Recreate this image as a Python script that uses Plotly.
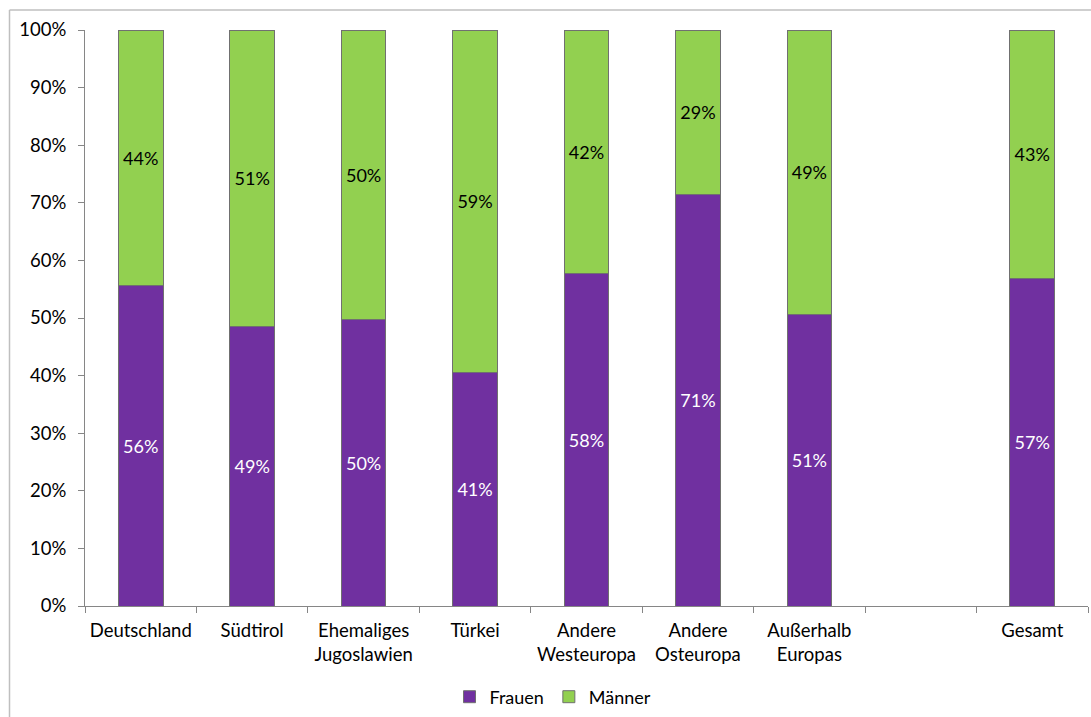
import plotly.graph_objects as go

categories = ["Deutschland", "Südtirol", "Ehemaliges<br>Jugoslawien", "Türkei",
              "Andere<br>Westeuropa", "Andere<br>Osteuropa", "Außerhalb<br>Europas", " ", "Gesamt"]
frauen = [55.7, 48.6, 49.8, 40.6, 57.8, 71.4, 50.6, None, 56.8]
maenner = [44.3, 51.4, 50.2, 59.4, 42.2, 28.6, 49.4, None, 43.2]
y_ticks = [0, 10, 20, 30, 40, 50, 60, 70, 80, 90, 100]
y_ticktext = [f"{v}%" for v in y_ticks]

FONT = "Lato, 'Open Sans', sans-serif"

fig = go.Figure()
fig.add_trace(go.Bar(
    x=categories, y=frauen, name="Frauen",
    marker=dict(color="#7030A0", line=dict(color="#707070", width=1)),
    texttemplate="%{y:.0f}%", textposition="inside", insidetextanchor="middle",
    textfont=dict(color="white", size=18, family=FONT), textangle=0,
    hoverinfo="skip",
))
fig.add_trace(go.Bar(
    x=categories, y=maenner, name="Männer",
    marker=dict(color="#92D050", line=dict(color="#707070", width=1)),
    texttemplate="%{y:.0f}%", textposition="inside", insidetextanchor="middle",
    textfont=dict(color="black", size=18, family=FONT), textangle=0,
    hoverinfo="skip",
))

W, H = 1091, 717
L, R, T, B = 85, 3, 30, 111
pw, ph = W - L - R, H - T - B

def px(x):
    return (x - L) / pw

def py(y):
    return (H - B - y) / ph

fig.update_layout(
    width=W, height=H,
    margin=dict(l=L, r=R, t=T, b=B, autoexpand=False),
    barmode="stack", bargap=0.6,
    plot_bgcolor="white", paper_bgcolor="white",
    font=dict(family=FONT, size=18, color="black"),
    uniformtext=dict(minsize=18, mode="show"),
    showlegend=True,
    legend=dict(orientation="h", x=px(553), xanchor="center", y=py(697), yanchor="middle",
                font=dict(size=18), itemwidth=30, traceorder="normal"),
    xaxis=dict(showline=True, linecolor="#868686", linewidth=1,
               ticks="outside", tickson="boundaries", ticklen=6, tickcolor="#868686",
               showgrid=False, tickfont=dict(size=18.5), ticklabelstandoff=8,
               tickangle=0, automargin=False),
    yaxis=dict(range=[0, 100], tickvals=y_ticks, ticktext=y_ticktext,
               showline=True, linecolor="#868686", linewidth=1,
               ticks="outside", ticklen=6, tickcolor="#868686",
               showgrid=False, zeroline=False, tickfont=dict(size=18.5),
               ticklabelstandoff=8, automargin=False),
    shapes=[
        dict(type="line", xref="paper", yref="paper", x0=px(9.5), x1=px(W + 20),
             y0=py(10), y1=py(10), line=dict(color="#BFBFBF", width=1.5)),
        dict(type="line", xref="paper", yref="paper", x0=px(9.5), x1=px(9.5),
             y0=py(10), y1=py(H + 20), line=dict(color="#BFBFBF", width=1.5)),
    ],
)

fig.write_html("out.html")
